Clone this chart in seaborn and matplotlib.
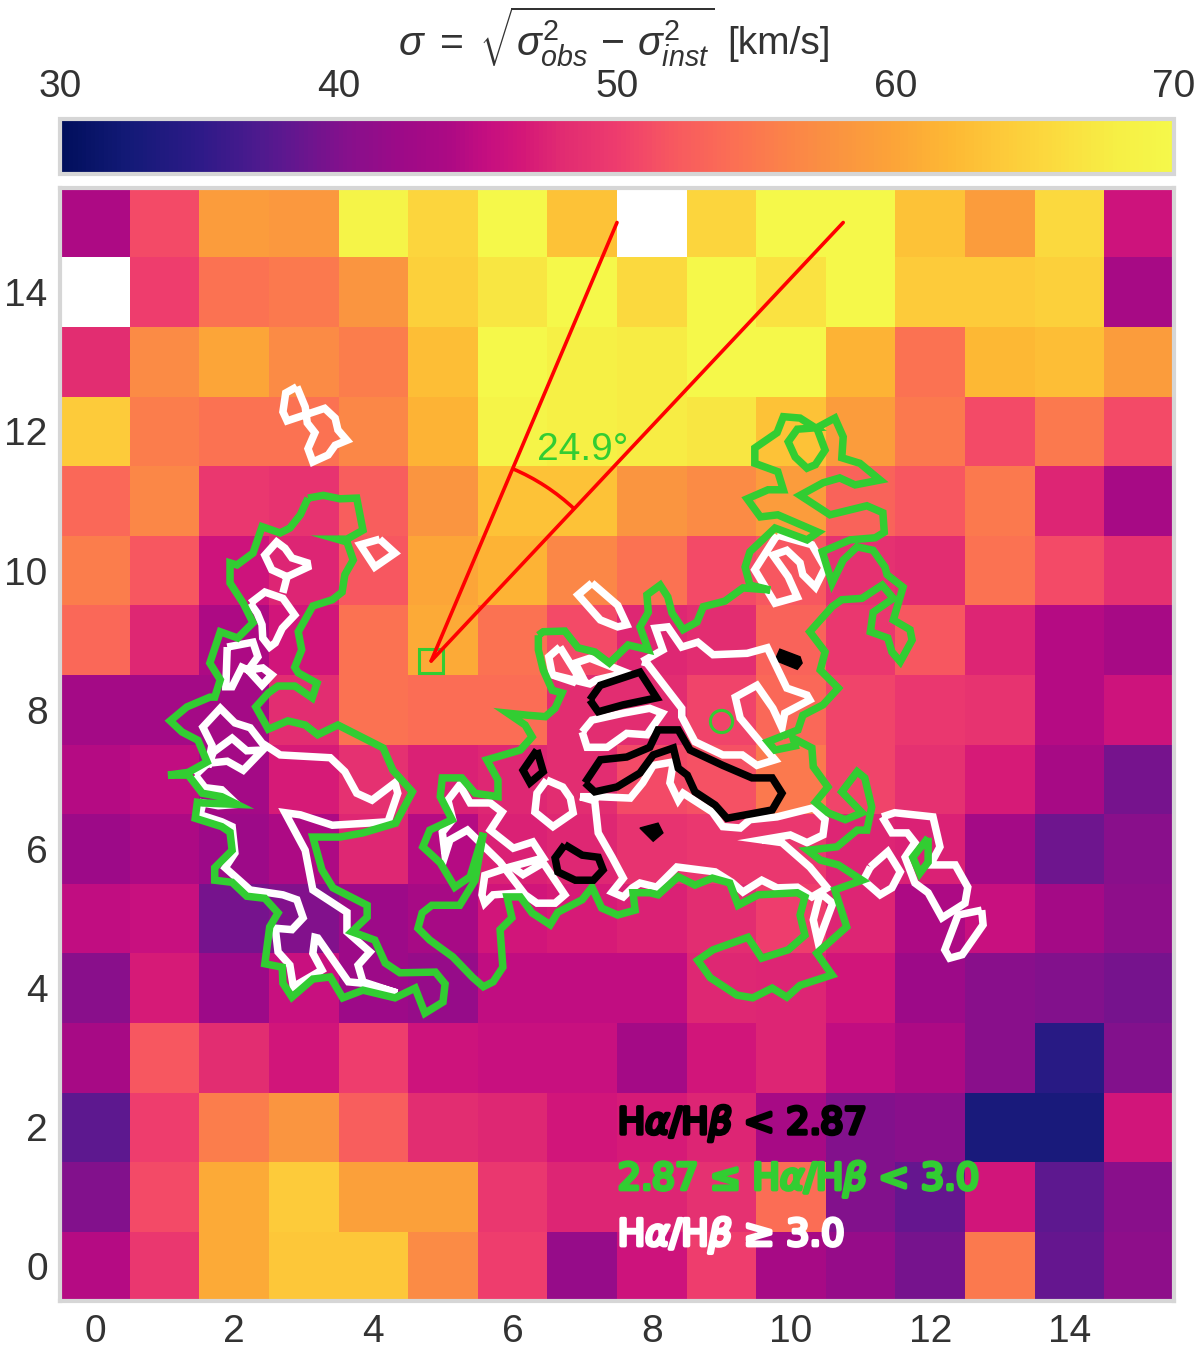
import numpy as np
import matplotlib
matplotlib.use('Agg')
import matplotlib.pyplot as plt
import matplotlib.patheffects as pe
from matplotlib.colors import LinearSegmentedColormap
from matplotlib.patches import Arc
import seaborn as sns

nan = np.nan

# velocity dispersion map, rows from y=15 (top) down to y=0
row_15 = [44, 51, 59, 58.5, 69, 65, 70, 63, nan, 65, 70, 70, 63, 59, 65.5, 46]
row_14 = [nan, 50, 54.5, 55, 58, 64.5, 67, 70, 65.5, 70, 66.5, 70, 64, 64, 64.5, 43.4]
row_13 = [48.2, 57, 60, 57, 55.5, 62.5, 70, 68, 67.5, 70, 70, 61.5, 54.5, 62, 62.5, 59]
row_12 = [64, 55.5, 54.5, 54.5, 56.5, 61.5, 69, 68, 67.5, 67, 63, 59, 55, 51, 55, 51]
row_11 = [53.5, 56.5, 49.5, 49, 52.5, 58, 63, 63, 58, 57, 59, 53, 52, 55, 47.5, 43.4]
row_10 = [55.5, 52, 46, 47.5, 52, 60, 61.5, 56.5, 54.5, 51, 52, 48.6, 48.2, 54.5, 51, 48.6]
row_9 = [53.5, 47.8, 44, 46.4, 54.5, 60.5, 54.5, 51, 47.8, 48.2, 53, 49.5, 52, 47.5, 44.5, 43.4]
row_8 = [43, 43, 43, 48.2, 54.5, 54, 54, 48.2, 48.2, 50.5, 53.5, 50.5, 49.5, 49, 44.5, 46]
row_7 = [44.5, 45, 43, 46.8, 48.6, 47.2, 47.8, 48.2, 51, 51.5, 55, 50.5, 48.6, 46.8, 43.4, 39.5]
row_6 = [42.3, 44, 42.3, 44, 47.8, 44.5, 47.2, 47.8, 49, 49.5, 49.5, 47.5, 47.2, 43, 39, 40.5]
row_5 = [45, 45.5, 39.5, 40, 42.3, 43.4, 46.4, 46.8, 47.2, 48.2, 50, 47.5, 44, 45.5, 43, 41]
row_4 = [40.5, 46.8, 42.3, 45.5, 42.3, 41.7, 45, 45, 45, 47.8, 47.5, 46.4, 42.3, 40.5, 40, 39.5]
row_3 = [43.4, 52, 48.2, 46.4, 50, 46, 45.5, 45.5, 43, 46.4, 47.5, 45, 44, 40.5, 34.5, 40]
row_2 = [38, 50, 55.5, 58, 52.5, 48.2, 47.8, 46.4, 46.8, 47.5, 43.4, 40, 40.5, 33, 33, 46.4]
row_1 = [40, 51, 60.5, 64, 59.5, 59.5, 49.5, 47.5, 47.5, 48.6, 54, 40, 38.5, 46.4, 38, 40.5]
row_0 = [44.5, 49.5, 60.5, 63.5, 63.5, 57, 50, 41.7, 46, 50, 43.4, 41.7, 39.5, 55, 38.5, 41]

tick_x = [0, 2, 4, 6, 8, 10, 12, 14]
tick_y = [0, 2, 4, 6, 8, 10, 12, 14]
tick_cbar = [30, 40, 50, 60, 70]

cmap_values = [30, 32.5, 35, 37, 38.3, 40.2, 42.1, 44, 45.3, 46.6, 47.9, 50, 52, 54, 56, 58, 60, 62, 64, 66, 68, 70]
cmap_colors = ['#000f5c', '#141a78', '#2e1a88', '#4c1a8e', '#62178f', '#85108c', '#9c0a88', '#ad0a84',
               '#c50e80', '#d41778', '#e02a72', '#ee3c6e', '#f75860', '#fb6d55', '#fb8249', '#fa9440',
               '#fca438', '#fdb834', '#fdcb3a', '#fbdd3f', '#f6ef45', '#f5f84a']

green_left = [(3.06, 11.04), (3.28, 11.08), (3.52, 11.03), (3.76, 11.04), (3.85, 10.58), (3.62, 10.45), (3.48, 10.45),
              (3.62, 10.41), (3.71, 10.15), (3.59, 9.94), (3.55, 9.69), (3.41, 9.58), (3.13, 9.49), (2.92, 9.12),
              (2.97, 8.86), (2.87, 8.61), (2.92, 8.53), (3.19, 8.38), (3.12, 8.17), (2.87, 8.34), (2.63, 8.34),
              (2.49, 8.24), (2.31, 8.04), (2.49, 7.72), (2.77, 7.84), (3.02, 7.78), (3.20, 7.64), (3.49, 7.78),
              (4.14, 7.45), (4.28, 7.13), (4.56, 6.82), (4.32, 6.37), (3.85, 6.23), (3.52, 6.17), (3.13, 6.17),
              (3.26, 5.70), (3.42, 5.44), (3.91, 5.19), (3.91, 5.02), (3.69, 4.81), (4.02, 4.69), (4.17, 4.36),
              (4.38, 4.22), (4.89, 4.23), (5.03, 4.06), (5.00, 3.80), (4.74, 3.64), (4.60, 4.00), (4.31, 3.86),
              (3.85, 3.97), (3.56, 3.86), (3.38, 4.16), (3.13, 4.13), (2.83, 3.87), (2.70, 4.07), (2.69, 4.30),
              (2.44, 4.35), (2.51, 4.88), (2.63, 5.08), (2.44, 5.29), (2.18, 5.32), (1.97, 5.52), (1.72, 5.55),
              (1.72, 5.73), (1.97, 5.98), (1.94, 6.24), (1.82, 6.32), (1.44, 6.44), (1.47, 6.67), (1.55, 6.66),
              (2.04, 6.64), (1.82, 6.75), (1.54, 6.80), (1.34, 7.06), (1.05, 7.06), (1.34, 7.10), (1.61, 7.25),
              (1.48, 7.56), (1.25, 7.68), (1.08, 7.84), (1.32, 8.04), (1.65, 8.18), (1.72, 8.18), (1.80, 8.43),
              (1.65, 8.67), (1.80, 9.12), (2.05, 9.03), (2.27, 9.25), (2.13, 9.53), (1.94, 9.82), (1.94, 10.11),
              (2.04, 10.08), (2.27, 10.25), (2.40, 10.63), (2.66, 10.54), (2.80, 10.61), (2.95, 10.80)]

green_main = [(6.37, 9.07), (6.44, 9.12), (6.75, 9.13), (6.94, 8.89), (7.18, 8.83), (7.39, 8.67), (7.66, 8.93),
              (7.95, 8.86), (7.83, 9.19), (7.95, 9.40), (7.93, 9.65), (8.12, 9.79), (8.23, 9.62), (8.29, 9.39),
              (8.45, 9.15), (8.65, 9.26), (8.74, 9.48), (9.05, 9.56), (9.31, 9.75), (9.70, 9.72), (9.41, 9.79),
              (9.34, 10.05), (9.41, 10.27), (9.77, 10.61), (10.23, 10.44), (10.39, 10.55), (10.09, 10.68),
              (9.81, 10.80), (9.56, 10.77), (9.37, 11.03), (9.67, 11.16), (9.89, 11.16), (9.81, 11.42),
              (9.48, 11.54), (9.48, 11.76), (9.80, 11.98), (9.89, 12.21), (10.13, 12.19), (10.35, 12.05),
              (10.09, 12.03), (9.96, 11.85), (10.06, 11.63), (10.23, 11.47), (10.35, 11.52), (10.49, 11.73),
              (10.37, 12.05), (10.63, 12.19), (10.75, 11.92), (10.73, 11.62), (10.99, 11.54), (11.28, 11.30),
              (10.92, 11.23), (10.70, 11.33), (10.46, 11.26), (10.13, 11.08), (10.56, 10.80), (11.09, 10.93),
              (11.32, 10.83), (11.34, 10.55), (11.21, 10.47), (10.85, 10.44), (10.45, 10.27), (10.59, 9.82),
              (10.75, 10.15), (10.95, 10.34), (11.18, 10.29), (11.35, 10.05), (11.38, 9.94), (11.61, 9.76),
              (11.47, 9.29), (11.71, 9.15), (11.74, 9.00), (11.57, 8.69), (11.45, 8.83), (11.39, 9.03),
              (11.14, 9.12), (11.18, 9.40), (11.47, 9.60), (11.31, 9.79), (11.02, 9.60), (10.73, 9.58),
              (10.59, 9.48), (10.27, 9.12), (10.49, 8.83), (10.42, 8.57), (10.68, 8.31), (10.46, 8.07),
              (10.17, 7.92), (10.10, 7.71), (9.67, 7.54), (9.77, 7.42), (10.06, 7.48), (10.03, 7.59),
              (10.30, 7.45), (10.32, 7.18), (10.53, 6.89), (10.35, 6.67), (10.53, 6.52), (10.78, 6.42),
              (11.02, 6.52), (10.73, 6.82), (10.95, 7.11), (11.06, 7.02), (11.16, 6.60), (11.09, 6.27),
              (10.95, 6.27), (10.66, 6.03), (10.24, 5.98), (10.42, 5.84), (10.68, 5.77), (11.02, 5.55),
              (10.63, 5.41), (10.80, 4.88), (10.37, 4.50), (10.59, 4.19), (10.13, 4.04), (9.94, 3.87),
              (9.73, 4.00), (9.45, 3.86), (9.22, 3.90), (8.84, 4.15), (8.66, 4.40), (8.88, 4.55), (9.38, 4.73),
              (9.58, 4.43), (9.96, 4.55), (10.20, 4.76), (10.13, 5.05), (10.20, 5.31), (10.09, 5.37),
              (9.53, 5.34), (9.24, 5.19), (9.12, 5.51), (8.87, 5.58), (8.62, 5.48), (8.38, 5.60), (8.09, 5.34),
              (7.97, 5.37), (7.73, 5.37), (7.76, 5.12), (7.51, 5.05), (7.28, 5.15), (7.14, 5.45), (7.00, 5.27),
              (6.65, 5.09), (6.54, 4.91), (6.28, 5.08), (6.11, 5.31), (5.92, 5.31), (5.99, 5.01), (5.82, 4.84),
              (5.86, 4.30), (5.72, 4.09), (5.58, 4.02), (5.43, 4.15), (5.14, 4.45), (4.81, 4.69), (4.64, 4.86),
              (4.70, 5.08), (4.84, 5.19), (5.24, 5.19), (5.46, 5.55), (5.58, 6.23), (5.39, 5.60), (5.17, 5.45),
              (4.96, 5.80), (4.71, 6.03), (4.81, 6.27), (5.13, 6.42), (4.96, 6.75), (4.99, 7.02), (5.27, 7.02),
              (5.46, 6.80), (5.79, 6.75), (5.79, 6.99), (5.63, 7.28), (6.11, 7.42), (6.28, 7.61), (6.18, 7.78),
              (5.93, 7.95), (6.22, 7.92), (6.47, 7.90), (6.61, 8.02), (6.71, 8.24), (6.57, 8.28), (6.44, 8.57),
              (6.37, 8.86)]

green_small = [(11.97, 6.16), (11.75, 5.88), (11.85, 5.65), (11.97, 5.81)]

white_eight = [(2.90, 12.64), (3.02, 12.35), (3.05, 12.12), (3.16, 11.98), (3.06, 11.75), (3.13, 11.56), (3.35, 11.66),
               (3.45, 11.80), (3.62, 11.87), (3.49, 12.02), (3.45, 12.19), (3.30, 12.33), (2.76, 12.15), (2.70, 12.28),
               (2.74, 12.55)]
white_diamond = [(4.09, 10.45), (4.31, 10.25), (4.02, 10.05), (3.81, 10.37)]
white_upper_a = [(2.70, 9.68), (2.76, 9.91), (3.06, 10.05), (3.05, 10.11), (2.83, 10.18), (2.73, 10.32), (2.61, 10.41),
                 (2.44, 10.22), (2.54, 10.01), (2.76, 9.91)]
white_upper_b = [(2.23, 9.53), (2.44, 9.69), (2.70, 9.60), (2.87, 9.36), (2.69, 9.17), (2.59, 8.96), (2.51, 8.90),
                 (2.41, 9.03), (2.40, 9.22), (2.33, 9.39)]
white_upper_c = [(1.90, 8.90), (2.27, 8.97), (2.34, 8.76), (2.20, 8.57), (2.40, 8.35), (2.54, 8.50), (2.41, 8.60),
                 (2.20, 8.57), (2.11, 8.61), (1.97, 8.33), (1.88, 8.33)]
white_left = [(1.44, 7.06), (1.62, 7.23), (1.90, 7.26), (2.13, 7.13), (2.41, 7.42), (2.18, 7.41), (1.97, 7.59),
              (1.70, 7.39), (1.62, 7.18), (1.68, 7.49), (1.55, 7.75), (1.80, 8.02), (2.01, 7.81), (2.23, 7.74),
              (2.40, 7.52), (2.66, 7.35), (3.38, 7.31), (3.59, 7.11), (3.76, 6.80), (3.98, 6.70), (4.31, 6.95),
              (4.35, 6.80), (4.21, 6.39), (3.91, 6.37), (3.41, 6.34), (2.95, 6.49), (2.73, 6.52), (3.02, 5.98),
              (3.13, 5.41), (3.62, 5.09), (3.62, 4.81), (3.95, 4.52), (3.78, 4.33), (3.85, 4.09), (4.34, 3.93),
              (3.85, 4.07), (3.64, 4.09), (3.20, 4.72), (3.16, 4.73), (3.13, 4.50), (3.26, 4.26), (3.09, 4.16),
              (2.85, 4.02), (2.80, 4.33), (2.63, 4.52), (2.59, 4.86), (2.83, 4.84), (2.99, 5.01), (2.90, 5.27),
              (2.70, 5.34), (2.23, 5.41), (1.87, 5.73), (2.01, 5.94), (1.97, 6.32), (1.82, 6.39), (1.51, 6.49),
              (1.55, 6.66), (1.77, 6.62), (2.04, 6.64), (1.82, 6.85), (1.58, 6.88)]
white_centre_top = [(7.86, 8.69), (8.16, 8.86), (8.05, 9.17), (8.23, 9.19), (8.43, 8.90), (8.66, 8.97), (8.88, 8.79),
                    (9.37, 8.81), (9.66, 8.89), (9.94, 8.31), (10.23, 8.21), (10.27, 8.14), (9.91, 7.95), (9.87, 7.74),
                    (9.74, 8.02), (9.51, 8.35), (9.20, 8.18), (9.27, 7.88), (9.77, 7.28), (9.51, 7.20), (9.30, 7.35),
                    (9.02, 7.35), (8.62, 7.54), (8.43, 7.90), (8.43, 8.02), (7.93, 8.67)]
white_centre_low = [(6.97, 6.75), (7.18, 6.69), (7.23, 6.23), (7.43, 5.88), (7.59, 5.58), (7.43, 5.38), (7.59, 5.31),
                    (7.72, 5.44), (7.83, 5.51), (8.07, 5.45), (8.36, 5.74), (8.91, 5.67), (9.15, 5.52), (9.31, 5.38),
                    (9.58, 5.55), (9.80, 5.44), (10.09, 5.45), (10.30, 5.31), (10.52, 5.44), (10.27, 5.74), (9.87, 6.09),
                    (9.58, 6.13), (9.99, 6.20), (10.23, 6.09), (10.46, 6.20), (10.49, 6.42), (10.32, 6.59), (9.80, 6.46),
                    (9.41, 6.42), (9.27, 6.30), (9.02, 6.32), (8.87, 6.53), (8.45, 6.80), (8.38, 6.70), (8.26, 6.95),
                    (8.31, 7.25), (8.02, 7.20), (7.87, 6.95), (7.69, 6.73), (7.23, 6.75)]
white_oval = [(6.49, 6.99), (6.35, 6.80), (6.32, 6.53), (6.58, 6.32), (6.87, 6.52), (6.83, 6.73), (6.72, 6.89)]
white_band = [(7.00, 7.68), (7.14, 7.85), (7.59, 7.95), (7.97, 8.02), (8.15, 7.95), (7.93, 7.64), (7.64, 7.66),
              (7.36, 7.46), (7.07, 7.46)]
white_top = [(7.14, 9.82), (6.94, 9.65), (7.26, 9.29), (7.51, 9.19), (7.64, 9.22), (7.51, 9.50)]
white_knot_a = [(6.68, 8.90), (6.52, 8.76), (6.57, 8.50), (6.87, 8.40), (6.93, 8.50)]
white_knot_b = [(6.58, 8.50), (7.11, 8.37), (7.21, 8.43), (7.64, 8.53), (7.11, 8.74), (6.90, 8.67), (7.04, 8.40)]
white_mid = [(6.14, 5.37), (5.72, 5.34), (5.60, 5.22), (5.56, 5.34), (5.60, 5.62), (5.96, 5.74), (6.44, 5.87), (6.29, 6.10),
             (6.01, 6.01), (5.68, 6.27), (5.85, 6.53), (5.68, 6.66), (5.39, 6.66), (5.24, 6.92), (5.07, 6.70), (5.14, 6.42),
             (4.99, 6.24), (5.03, 5.91), (5.10, 6.13), (5.35, 6.27), (5.82, 5.81), (6.18, 5.34), (6.35, 5.22), (6.61, 5.22),
             (6.75, 5.34), (6.44, 5.80), (6.15, 5.63), (6.01, 5.73)]
white_right_a = [(11.14, 5.74), (11.39, 5.96), (11.57, 5.67), (11.45, 5.44), (11.28, 5.34), (11.04, 5.55)]
white_right_b = [(11.31, 6.46), (11.49, 6.52), (12.04, 6.46), (12.14, 6.03), (12.00, 5.77), (12.36, 5.77), (12.54, 5.45),
                 (12.50, 5.22), (12.17, 5.01), (11.97, 5.37), (11.78, 5.51), (11.64, 5.88), (11.78, 6.09), (11.67, 6.23),
                 (11.45, 6.23)]
white_right_c = [(12.74, 5.12), (12.40, 5.05), (12.21, 4.55), (12.28, 4.43), (12.46, 4.48), (12.76, 4.91)]
white_sliver = [(10.42, 5.37), (10.60, 5.22), (10.39, 4.66), (10.32, 4.98)]
white_north = [(9.80, 10.51), (9.48, 10.01), (9.77, 9.53), (10.09, 9.62), (9.96, 9.91), (9.74, 10.22), (9.94, 10.29),
               (10.13, 10.11), (10.17, 9.94), (10.35, 9.76), (10.49, 10.04), (10.30, 10.37)]

black_a = [(7.11, 8.14), (7.26, 8.35), (7.83, 8.54), (8.07, 8.17), (7.59, 8.07), (7.23, 7.97)]
black_b = [(7.04, 6.95), (7.26, 7.28), (7.64, 7.32), (7.97, 7.46), (8.09, 7.71), (8.38, 7.71), (8.55, 7.42), (9.02, 7.20),
           (9.44, 7.02), (9.73, 7.02), (9.87, 6.80), (9.73, 6.56), (9.08, 6.44), (8.91, 6.63), (8.62, 6.82), (8.51, 7.06),
           (8.38, 7.16), (8.31, 7.45), (8.02, 7.35), (7.83, 7.09), (7.50, 6.89), (7.18, 6.82)]
black_c = [(6.35, 7.42), (6.15, 7.13), (6.25, 6.95), (6.44, 7.11)]
black_d = [(7.83, 6.30), (8.09, 6.37), (8.16, 6.23), (8.02, 6.11)]
black_e = [(9.84, 8.87), (10.13, 8.76), (10.16, 8.67), (10.09, 8.58), (9.77, 8.71)]
black_f = [(6.75, 6.06), (6.61, 5.87), (6.65, 5.67), (6.90, 5.55), (7.16, 5.55), (7.30, 5.70), (7.23, 5.88), (7.00, 5.91)]

white_closed = [white_eight, white_diamond, white_upper_b, white_upper_c, white_left, white_centre_top, white_centre_low,
                white_oval, white_band, white_top, white_knot_a, white_right_a, white_right_b, white_right_c,
                white_sliver, white_north]
white_open = [white_upper_a, white_knot_b, white_mid]
green_closed = [green_left, green_main, green_small]
black_closed = [black_a, black_b, black_c, black_f]
black_filled = [black_d, black_e]

# opening angle markers
apex = (4.83, 8.70)
ray_ends = [(7.50, 15.00), (10.75, 15.00)]
arc_radius = 3.0
arc_angles = (46.75, 67.04)
open_circle = (8.99, 7.84)

sns.set_style('whitegrid')
plt.rcParams['font.family'] = ['Liberation Sans', 'DejaVu Sans']
plt.rcParams['mathtext.fontset'] = 'custom'
plt.rcParams['mathtext.rm'] = 'Liberation Sans'
plt.rcParams['mathtext.it'] = 'Liberation Sans:italic'
plt.rcParams['mathtext.bf'] = 'Liberation Sans:bold'

GREY = '#d6d6d6'
TEXT = '#333333'
LIME = '#32cd32'
LINE_W = 5.4
OFF = 0.5  # heatmap cell centres sit at i + 0.5


def draw_lines(ax, segs, color, closed=True):
    for seg in segs:
        pts = np.array(seg + seg[:1] if closed else seg)
        ax.plot(pts[:, 0] + OFF, pts[:, 1] + OFF, color=color, lw=LINE_W,
                solid_joinstyle='miter', solid_capstyle='butt')


sigma = np.array([row_15, row_14, row_13, row_12, row_11, row_10, row_9, row_8,
                  row_7, row_6, row_5, row_4, row_3, row_2, row_1, row_0])[::-1]
cmap = LinearSegmentedColormap.from_list(
    'sigma', [((v - 30) / 40, c) for v, c in zip(cmap_values, cmap_colors)], N=256)

fig = plt.figure(figsize=(12, 13.5), dpi=100)
ax = fig.add_axes([60.2 / 1200, 48.7 / 1350, 1113.6 / 1200, 1113.6 / 1350])
cax = fig.add_axes([60.2 / 1200, (1350 - 174) / 1350, 1113.6 / 1200, 55.5 / 1350])

sns.heatmap(sigma, ax=ax, cmap=cmap, vmin=30, vmax=70, cbar_ax=cax,
            cbar_kws={'orientation': 'horizontal', 'ticks': tick_cbar})
ax.set_ylim(0, 16)
ax.set_xlim(0, 16)
ax.grid(False)

ax.set_xticks(np.array(tick_x) + OFF)
ax.set_xticklabels(tick_x, rotation=0)
ax.set_yticks(np.array(tick_y) + OFF)
ax.set_yticklabels(tick_y, rotation=0, va='center_baseline')
ax.tick_params(length=0, labelsize=28, labelcolor=TEXT, pad=9)
for spine in ax.spines.values():
    spine.set_visible(True)
    spine.set_color(GREY)
    spine.set_linewidth(3)
    spine.set_zorder(5)

cbar = ax.collections[0].colorbar
cbar.outline.set_visible(True)
cbar.outline.set_edgecolor(GREY)
cbar.outline.set_linewidth(3)
cax.xaxis.set_ticks_position('top')
cax.tick_params(length=0, labelsize=28, labelcolor=TEXT, pad=9.5)

draw_lines(ax, white_closed, 'white')
draw_lines(ax, white_open, 'white', closed=False)
draw_lines(ax, green_closed, LIME)
draw_lines(ax, black_closed, 'black')
for seg in black_filled:
    pts = np.array(seg)
    ax.fill(pts[:, 0] + OFF, pts[:, 1] + OFF, color='black', lw=1)

for end in ray_ends:
    ax.plot([apex[0] + OFF, end[0] + OFF], [apex[1] + OFF, end[1] + OFF], color='red', lw=2.6,
            solid_capstyle='round')
ax.add_patch(Arc((apex[0] + OFF, apex[1] + OFF), 2 * arc_radius, 2 * arc_radius,
                 theta1=arc_angles[0], theta2=arc_angles[1], color='red', lw=2.6))
ax.plot(apex[0] + OFF, apex[1] + OFF, marker='s', ms=17, mfc='none', mec=LIME, mew=2.2, zorder=1.9)
ax.plot(open_circle[0] + OFF, open_circle[1] + OFF, marker='o', ms=16, mfc='none', mec=LIME, mew=2.2)
ax.text(6.35 + OFF, 11.59 + OFF, '24.9°', color=LIME, fontsize=28, va='baseline')

legend_rows = [('H$\\alpha$/H$\\beta$ < 2.87', 'black', 1.905),
               ('2.87 ≤ H$\\alpha$/H$\\beta$ < 3.0', LIME, 1.105),
               ('H$\\alpha$/H$\\beta$ ≥ 3.0', 'white', 0.30)]
for label, color, y in legend_rows:
    ax.text(7.51 + OFF, y + OFF, label, color=color, fontsize=26.4, va='baseline',
            family='DejaVu Sans', math_fontfamily='dejavusans',
            path_effects=[pe.withStroke(linewidth=2.8, foreground=color)])

fig.text(715 / 1200, (1350 - 56) / 1350,
         r'$\sigma\;=\;\sqrt{\sigma^2_{obs}\,-\,\sigma^2_{inst}}$',
         ha='right', va='baseline', fontsize=29.5, color=TEXT)
fig.text(727 / 1200, (1350 - 54) / 1350, '[km/s]',
         ha='left', va='baseline', fontsize=28, color=TEXT)

fig.savefig('out.png', dpi=100)
